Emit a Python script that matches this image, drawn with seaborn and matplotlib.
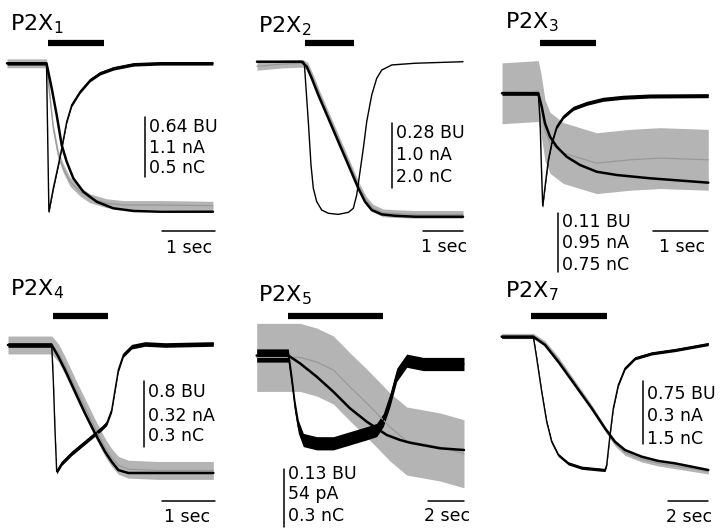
import numpy as np
import matplotlib
matplotlib.use("Agg")
import matplotlib.pyplot as plt
import seaborn as sns

sns.set_style("white")
plt.rcParams["font.family"] = ["DejaVu Sans"]
plt.rcParams["mathtext.fontset"] = "dejavusans"
plt.rcParams["text.color"] = "black"

# Traces: time in s (0 = agonist onset), amplitude normalised to peak (0 baseline, -1 peak)
# i = current, q = charge (smooth), b = BU (grey)

# P2X1
p1_i_t = [-0.745, 0, 0.045, 0.128, 0.223, 0.287, 0.381, 0.475, 0.632, 0.821, 1.009, 1.26, 1.64, 2.14, 3.14]
p1_i = [0, 0, -1.0, -0.842, -0.685, -0.573, -0.394, -0.281, -0.191, -0.113, -0.067, -0.034, -0.007, 0, 0]
p1_q_t = [-0.745, 0, 0.098, 0.192, 0.287, 0.381, 0.506, 0.694, 0.947, 1.26, 1.64, 2.14, 3.14]
p1_q = [0, 0, -0.168, -0.348, -0.551, -0.663, -0.775, -0.865, -0.933, -0.977, -0.995, -1.0, -1.0]
p1_b_t = [-0.745, 0, 0.066, 0.128, 0.223, 0.317, 0.443, 0.632, 0.821, 1.136, 1.449, 2.14, 3.14]
p1_b = [0, 0, -0.236, -0.438, -0.618, -0.708, -0.798, -0.865, -0.91, -0.943, -0.955, -0.955, -0.96]

# P2X2
p2_i_t = [-1.15, 0, 0.033, 0.133, 0.2, 0.258, 0.343, 0.468, 0.633, 0.883, 1.133, 1.258, 1.343,
          1.425, 1.508, 1.593, 1.718, 1.843, 1.968, 2.218, 2.8, 4.0]
p2_i = [0, 0, -0.01, -0.387, -0.666, -0.817, -0.903, -0.957, -0.978, -0.985, -0.972, -0.946, -0.86,
        -0.71, -0.559, -0.387, -0.215, -0.107, -0.054, -0.021, -0.01, 0]
p2_q_t = [-1.15, -0.033, 0.093, 0.218, 0.383, 0.633, 0.883, 1.133, 1.383, 1.55, 1.718, 1.968, 2.3, 2.8, 4.0]
p2_q = [0, 0, -0.032, -0.107, -0.215, -0.365, -0.516, -0.666, -0.817, -0.903, -0.957, -0.985, -0.994, -1.0, -1.0]
p2_b_t = [-1.15, -0.5, 0, 0.12, 0.25, 0.41, 0.66, 0.91, 1.16, 1.41, 1.58, 1.75, 2.0, 2.3, 2.8, 4.0]
p2_b = [-0.03, -0.015, -0.01, -0.03, -0.105, -0.21, -0.36, -0.51, -0.66, -0.81, -0.895, -0.945,
        -0.975, -0.98, -0.985, -0.985]

# P2X3
p3_i_t = [-0.66, 0, 0.031, 0.062, 0.08, 0.122, 0.182, 0.244, 0.335, 0.455, 0.636, 0.88, 1.18, 1.545, 2.03, 3.09]
p3_i = [0, 0, -0.237, -0.74, -1.0, -0.829, -0.592, -0.444, -0.296, -0.208, -0.133, -0.089, -0.053,
        -0.035, -0.024, -0.021]
p3_q_t = [-0.66, 0, 0.062, 0.122, 0.213, 0.335, 0.516, 0.758, 1.062, 1.425, 2.03, 3.09]
p3_q = [0, 0, -0.119, -0.266, -0.385, -0.474, -0.563, -0.636, -0.696, -0.725, -0.754, -0.793]
p3_b_t = [-0.66, 0, 0.05, 0.122, 0.213, 0.455, 1.06, 1.67, 2.21, 3.09]
p3_b = [0, 0.02, -0.1, -0.33, -0.44, -0.53, -0.62, -0.59, -0.575, -0.59]

# P2X4
p4_i_t = [-0.825, 0, 0.03, 0.062, 0.094, 0.189, 0.377, 0.566, 0.755, 0.943, 1.038, 1.132, 1.194,
          1.257, 1.351, 1.509, 1.76, 2.14, 3.05]
p4_i = [0, 0, -0.273, -0.664, -0.99, -0.924, -0.846, -0.781, -0.716, -0.651, -0.612, -0.508, -0.352,
        -0.195, -0.078, -0.013, 0.008, 0, 0.008]
p4_q_t = [-0.825, 0, 0.125, 0.251, 0.44, 0.628, 0.817, 1.006, 1.132, 1.257, 1.445, 3.05]
p4_q = [0, 0, -0.091, -0.195, -0.365, -0.534, -0.69, -0.834, -0.912, -0.977, -1.0, -1.0]
p4_b_t = [-0.825, 0, 0.125, 0.251, 0.44, 0.628, 0.817, 1.006, 1.132, 1.257, 1.445, 2.0, 3.05]
p4_b = [0, 0, -0.06, -0.16, -0.33, -0.49, -0.65, -0.8, -0.88, -0.94, -0.97, -0.98, -0.98]

# P2X5
p5_i_t = [-1.756, 0, 0.189, 0.372, 0.556, 0.833, 1.578, 2.5, 3.428, 4.356, 4.911, 5.278, 5.65,
          6.022, 6.578, 7.5, 8.428, 9.76]
p5_i = [0, 0, -0.259, -0.542, -0.753, -0.894, -0.929, -0.929, -0.876, -0.823, -0.788, -0.683,
        -0.471, -0.206, -0.055, -0.09, -0.09, -0.09]
p5_q_t = [-1.756, 0, 0.65, 1.578, 2.5, 3.428, 4.356, 4.911, 5.467, 6.206, 6.761, 8.428, 9.76]
p5_q = [0, 0, -0.083, -0.224, -0.383, -0.559, -0.7, -0.77, -0.841, -0.894, -0.923, -0.982, -1.0]
p5_b_t = [-1.756, 0, 0.65, 1.578, 2.5, 3.428, 4.356, 5.278, 5.65, 6.578, 8.428, 9.76]
p5_b = [-0.02, -0.02, -0.02, -0.069, -0.153, -0.333, -0.503, -0.683, -0.757, -0.905, -0.968, -1.04]

# P2X7
p7_i_t = [-1.58, 0, 0.17, 0.42, 0.67, 0.92, 1.25, 1.75, 2.42, 3.585, 3.67, 3.835, 4.0, 4.25,
          4.585, 5.085, 5.92, 7.085, 8.75]
p7_i = [0, 0, -0.162, -0.413, -0.638, -0.788, -0.887, -0.95, -0.983, -1.0, -0.962, -0.737, -0.537,
        -0.362, -0.237, -0.162, -0.125, -0.1, -0.055]
p7_q_t = [-1.58, 0, 0.585, 1.25, 2.085, 2.92, 3.585, 4.085, 4.585, 5.42, 6.25, 7.085, 8.75]
p7_q = [0, 0, -0.062, -0.188, -0.362, -0.537, -0.687, -0.788, -0.85, -0.9, -0.932, -0.95, -1.0]
p7_b_t = p7_q_t
p7_b = [0.005, 0.005, -0.05, -0.17, -0.35, -0.53, -0.69, -0.8, -0.87, -0.92, -0.95, -0.97, -1.01]

# agonist application (s)
agonist = [(0.028, 1.085), (0.05, 1.275), (0.031, 1.049), (0.025, 1.062), (-0.017, 5.26), (-0.115, 3.685)]
# noise half-widths (grey, current)
grey_noise = [0.03, 0.025, 0.27, 0.07, 0.36, 0.02]
cur_noise = [0.012, 0.0, 0.018, 0.018, 0.07, 0.012]
names = ["1", "2", "3", "4", "5", "7"]
scale_labels = [["0.64 BU", "1.1 nA", "0.5 nC"], ["0.28 BU", "1.0 nA", "2.0 nC"],
                ["0.11 BU", "0.95 nA", "0.75 nC"], ["0.8 BU", "0.32 nA", "0.3 nC"],
                ["0.13 BU", "54 pA", "0.3 nC"], ["0.75 BU", "0.3 nA", "1.5 nC"]]
time_bars = [1, 1, 1, 1, 2, 2]

traces = [
    (p1_i_t, p1_i, p1_q_t, p1_q, p1_b_t, p1_b),
    (p2_i_t, p2_i, p2_q_t, p2_q, p2_b_t, p2_b),
    (p3_i_t, p3_i, p3_q_t, p3_q, p3_b_t, p3_b),
    (p4_i_t, p4_i, p4_q_t, p4_q, p4_b_t, p4_b),
    (p5_i_t, p5_i, p5_q_t, p5_q, p5_b_t, p5_b),
    (p7_i_t, p7_i, p7_q_t, p7_q, p7_b_t, p7_b),
]

# layout in pixels: onset x, px per s, baseline y, peak size
W, H = 720, 529
layout = [
    dict(t0=46.5, pps=53, y0=63.3, amp=148.4, bar_y=43, title=(10, 30), sb_x=145, sb_y=(117, 177),
         lab_x=149, lab_y=(132, 153, 173), tb=(215, 231), tb_text=(189, 253)),
    dict(t0=303, pps=40, y0=61.7, amp=155, bar_y=43, title=(258, 32), sb_x=392, sb_y=(123, 188),
         lab_x=396, lab_y=(138, 160, 182), tb=(463, 231), tb_text=(444, 252)),
    dict(t0=538.3, pps=55, y0=93.3, amp=112.7, bar_y=43, title=(505, 28), sb_x=558, sb_y=(213, 272),
         lab_x=562, lab_y=(227, 248, 270), tb=(708, 231), tb_text=(682, 252)),
    dict(t0=51.7, pps=53, y0=345, amp=128, bar_y=316, title=(10, 295), sb_x=144, sb_y=(381, 447),
         lab_x=148, lab_y=(397, 421, 441), tb=(215, 501), tb_text=(187, 522)),
    dict(t0=288.3, pps=18, y0=355.5, amp=94.5, bar_y=316, title=(258, 301), sb_x=284, sb_y=(469, 527),
         lab_x=288, lab_y=(479, 499, 521), tb=(464, 501), tb_text=(447, 521)),
    dict(t0=533.3, pps=20, y0=336.7, amp=133.3, bar_y=316, title=(505, 297), sb_x=643, sb_y=(381, 444),
         lab_x=647, lab_y=(399, 421, 444), tb=(708, 501), tb_text=(689, 522)),
]

fig = plt.figure(figsize=(7.2, 5.29), dpi=100)

for k, L in enumerate(layout):
    ax = fig.add_axes([0, 0, 1, 1])
    ax.set_xlim(-L["t0"] / L["pps"], (W - L["t0"]) / L["pps"])
    ax.set_ylim(-(H - L["y0"]) / L["amp"], L["y0"] / L["amp"])
    ax.axis("off")
    ax.patch.set_alpha(0)
    to_t = lambda x: (x - L["t0"]) / L["pps"]
    to_v = lambda y: -(y - L["y0"]) / L["amp"]

    it, iv, qt, qv, bt, bv = traces[k]
    # grey BU trace with its noise envelope
    bv_a = np.array(bv)
    ax.fill_between(bt, bv_a - grey_noise[k], bv_a + grey_noise[k], color="#b4b4b4", lw=0)
    sns.lineplot(x=bt, y=bv, ax=ax, color="#999999", lw=0.9, estimator=None, sort=False)
    # current
    if cur_noise[k] > 0:
        iv_a = np.array(iv)
        ax.fill_between(it, iv_a - cur_noise[k], iv_a + cur_noise[k], color="black", lw=0)
    sns.lineplot(x=it, y=iv, ax=ax, color="black", lw=1.0, estimator=None, sort=False)
    # charge
    sns.lineplot(x=qt, y=qv, ax=ax, color="black", lw=1.8, estimator=None, sort=False)

    # agonist bar
    a0, a1 = agonist[k]
    ax.plot([a0, a1], [to_v(L["bar_y"])] * 2, color="black", lw=4.5, solid_capstyle="butt")
    # vertical scale bar
    ax.plot([to_t(L["sb_x"])] * 2, [to_v(L["sb_y"][0]), to_v(L["sb_y"][1])], color="black", lw=1.1)
    # time scale bar
    tr = to_t(L["tb"][0])
    ax.plot([tr - time_bars[k], tr], [to_v(L["tb"][1])] * 2, color="black", lw=1.1)

    fig.text(L["title"][0] / W, 1 - L["title"][1] / H, "P2X$_{%s}$" % names[k],
             fontsize=16, va="baseline", ha="left", color="black")
    for s, y in zip(scale_labels[k], L["lab_y"]):
        fig.text(L["lab_x"] / W, 1 - y / H, s, fontsize=12.5, va="baseline", ha="left", color="black")
    fig.text(L["tb_text"][0] / W, 1 - L["tb_text"][1] / H, "%d sec" % time_bars[k],
             fontsize=12.5, va="baseline", ha="center", color="black")

fig.savefig("out.png", dpi=100)
